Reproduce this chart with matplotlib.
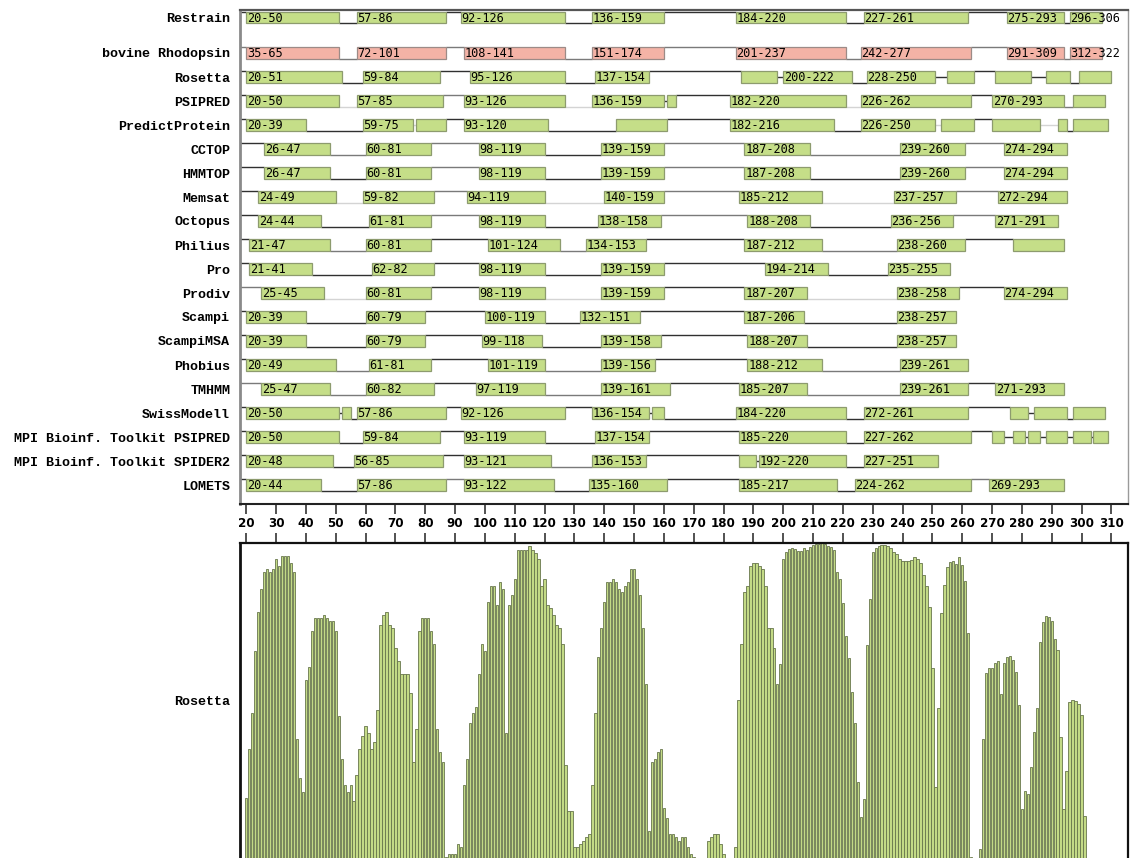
import matplotlib
matplotlib.use("Agg")
import matplotlib.pyplot as plt
from matplotlib.patches import Rectangle
import numpy as np

# ---- predicted transmembrane segments: (first residue, last residue, label) ----
row_names = ["Restrain", "bovine Rhodopsin", "Rosetta", "PSIPRED", "PredictProtein",
             "CCTOP", "HMMTOP", "Memsat", "Octopus", "Philius", "Pro", "Prodiv",
             "Scampi", "ScampiMSA", "Phobius", "TMHMM", "SwissModell",
             "MPI Bioinf. Toolkit PSIPRED", "MPI Bioinf. Toolkit SPIDER2", "LOMETS"]

restrain = [(20, 50, "20-50"), (57, 86, "57-86"), (92, 126, "92-126"), (136, 159, "136-159"),
            (184, 220, "184-220"), (227, 261, "227-261"), (275, 293, "275-293"), (296, 306, "296-306")]
rhodopsin = [(20, 50, "35-65"), (57, 86, "72-101"), (93, 126, "108-141"), (136, 159, "151-174"),
             (184, 220, "201-237"), (226, 262, "242-277"), (275, 293, "291-309"), (296, 306, "312-322")]
rosetta = [(20, 51, "20-51"), (59, 84, "59-84"), (95, 126, "95-126"), (137, 154, "137-154"),
           (186, 197, ""), (200, 222, "200-222"), (228, 250, "228-250"), (255, 263, ""),
           (271, 282, ""), (288, 295, ""), (299, 309, "")]
psipred = [(20, 50, "20-50"), (57, 85, "57-85"), (93, 126, "93-126"), (136, 159, "136-159"),
           (161, 163, ""), (182, 220, "182-220"), (226, 262, "226-262"), (270, 293, "270-293"),
           (297, 307, "")]
predictprotein = [(20, 39, "20-39"), (59, 75, "59-75"), (77, 86, ""), (93, 120, "93-120"),
                  (144, 160, ""), (182, 216, "182-216"), (226, 250, "226-250"), (253, 263, ""),
                  (270, 285, ""), (292, 294, ""), (297, 308, "")]
cctop = [(26, 47, "26-47"), (60, 81, "60-81"), (98, 119, "98-119"), (139, 159, "139-159"),
         (187, 208, "187-208"), (239, 260, "239-260"), (274, 294, "274-294")]
hmmtop = [(26, 47, "26-47"), (60, 81, "60-81"), (98, 119, "98-119"), (139, 159, "139-159"),
          (187, 208, "187-208"), (239, 260, "239-260"), (274, 294, "274-294")]
memsat = [(24, 49, "24-49"), (59, 82, "59-82"), (94, 119, "94-119"), (140, 159, "140-159"),
          (185, 212, "185-212"), (237, 257, "237-257"), (272, 294, "272-294")]
octopus = [(24, 44, "24-44"), (61, 81, "61-81"), (98, 119, "98-119"), (138, 158, "138-158"),
           (188, 208, "188-208"), (236, 256, "236-256"), (271, 291, "271-291")]
philius = [(21, 47, "21-47"), (60, 81, "60-81"), (101, 124, "101-124"), (134, 153, "134-153"),
           (187, 212, "187-212"), (238, 260, "238-260"), (277, 293, "")]
pro = [(21, 41, "21-41"), (62, 82, "62-82"), (98, 119, "98-119"), (139, 159, "139-159"),
       (194, 214, "194-214"), (235, 255, "235-255")]
prodiv = [(25, 45, "25-45"), (60, 81, "60-81"), (98, 119, "98-119"), (139, 159, "139-159"),
          (187, 207, "187-207"), (238, 258, "238-258"), (274, 294, "274-294")]
scampi = [(20, 39, "20-39"), (60, 79, "60-79"), (100, 119, "100-119"), (132, 151, "132-151"),
          (187, 206, "187-206"), (238, 257, "238-257")]
scampimsa = [(20, 39, "20-39"), (60, 79, "60-79"), (99, 118, "99-118"), (139, 158, "139-158"),
             (188, 207, "188-207"), (238, 257, "238-257")]
phobius = [(20, 49, "20-49"), (61, 81, "61-81"), (101, 119, "101-119"), (139, 156, "139-156"),
           (188, 212, "188-212"), (239, 261, "239-261")]
tmhmm = [(25, 47, "25-47"), (60, 82, "60-82"), (97, 119, "97-119"), (139, 161, "139-161"),
         (185, 207, "185-207"), (239, 261, "239-261"), (271, 293, "271-293")]
swissmodell = [(20, 50, "20-50"), (52, 54, ""), (57, 86, "57-86"), (92, 126, "92-126"),
               (136, 154, "136-154"), (156, 159, ""), (184, 220, "184-220"), (227, 261, "272-261"),
               (276, 281, ""), (284, 294, ""), (297, 307, "")]
mpi_psipred = [(20, 50, "20-50"), (59, 84, "59-84"), (93, 119, "93-119"), (137, 154, "137-154"),
               (185, 220, "185-220"), (227, 262, "227-262"), (270, 273, ""), (277, 280, ""),
               (282, 285, ""), (288, 294, ""), (297, 302, ""), (304, 308, "")]
mpi_spider2 = [(20, 48, "20-48"), (56, 85, "56-85"), (93, 121, "93-121"), (136, 153, "136-153"),
               (185, 190, ""), (192, 220, "192-220"), (227, 251, "227-251")]
lomets = [(20, 44, "20-44"), (57, 86, "57-86"), (93, 122, "93-122"), (135, 160, "135-160"),
          (185, 217, "185-217"), (224, 262, "224-262"), (269, 293, "269-293")]

# connecting loops: first entry is the N-terminal lead-in, then one per gap
# t/b/m = top, bottom, middle of the box; suffix g = grey line, l = light line
restrain_loops = ["t", "b", "t", "b", "t", "b", "t", "b"]
rhodopsin_loops = ["tg", "bg", "tg", "bg", "tg", "bg", "tg", "bg"]
rosetta_loops = ["t", "b", "t", "b", "t", "m", "b", "m", "t", "m", "b"]
psipred_loops = ["t", "bl", "tg", "bl", "m", "t", "bl", "t", "bg"]
predictprotein_loops = ["t", "b", "ml", "t", "b", "t", "b", "ml", "t", "ml", "b"]
cctop_loops = ["t", "bg", "tg", "b", "tg", "bg", "tg"]
hmmtop_loops = ["t", "b", "tg", "b", "tg", "b", "tg"]
memsat_loops = ["t", "bl", "tg", "bl", "tg", "bl", "tg"]
octopus_loops = ["t", "b", "tg", "b", "tg", "b", "tg"]
philius_loops = ["t", "bg", "t", "bg", "t", "bg", "t"]
pro_loops = ["t", "b", "t", "b", "t", "b"]
prodiv_loops = ["tg", "bl", "t", "bl", "t", "bl", "t"]
scampi_loops = ["t", "b", "t", "b", "t", "b"]
scampimsa_loops = ["t", "b", "t", "b", "t", "b"]
phobius_loops = ["t", "bg", "t", "bg", "t", "bg"]
tmhmm_loops = ["tg", "bg", "t", "bg", "t", "bg", "t"]
swissmodell_loops = ["t", "m", "b", "t", "t", "m", "b", "b", "t", "m", "b"]
mpi_psipred_loops = ["t", "b", "t", "b", "t", "b", "t", "m", "m", "m", "m", "m"]
mpi_spider2_loops = ["t", "b", "t", "bg", "t", "m", "b"]
lomets_loops = ["t", "b", "tg", "b", "t", "b", "tg"]

segments = [restrain, rhodopsin, rosetta, psipred, predictprotein, cctop, hmmtop, memsat,
            octopus, philius, pro, prodiv, scampi, scampimsa, phobius, tmhmm, swissmodell,
            mpi_psipred, mpi_spider2, lomets]
loops = [restrain_loops, rhodopsin_loops, rosetta_loops, psipred_loops, predictprotein_loops,
         cctop_loops, hmmtop_loops, memsat_loops, octopus_loops, philius_loops, pro_loops,
         prodiv_loops, scampi_loops, scampimsa_loops, phobius_loops, tmhmm_loops,
         swissmodell_loops, mpi_psipred_loops, mpi_spider2_loops, lomets_loops]

# ---- per-residue Rosetta membrane score, residues 20..301 ----
score_start = 20
rosetta_score = [
    22, 37, 48, 67, 79, 86, 91, 92, 91, 92,
    95, 93, 96, 96, 96, 94, 91, 40, 28, 24,
    58, 62, 73, 77, 77, 77, 78, 77, 76, 76,
    73, 47, 34, 26, 24, 26, 21, 29, 37, 41,
    44, 42, 37, 39, 49, 75, 78, 79, 75, 74,
    68, 64, 60, 60, 60, 54, 33, 43, 73, 77,
    77, 77, 73, 69, 43, 36, 33, 4, 5, 5,
    5, 8, 7, 26, 34, 45, 48, 50, 60, 69,
    67, 82, 87, 87, 81, 88, 86, 42, 81, 84,
    89, 98, 98, 98, 98, 99, 98, 97, 95, 87,
    89, 81, 80, 78, 75, 74, 69, 32, 18, 18,
    7, 7, 8, 9, 10, 11, 26, 48, 65, 74,
    82, 88, 88, 89, 88, 86, 85, 87, 88, 92,
    92, 89, 84, 74, 57, 12, 33, 34, 36, 37,
    19, 16, 11, 11, 10, 9, 10, 10, 7, 5,
    4, 0, 0, 0, 0, 9, 10, 11, 11, 8,
    5, 0, 0, 3, 7, 52, 69, 85, 87, 93,
    94, 94, 93, 92, 87, 74, 74, 68, 57, 63,
    95.2, 97.2, 98.3, 98.5, 98.3, 97.7, 97.6, 98.4, 97.8, 98.7,
    99.4, 99.7, 99.7, 99.9, 99.7, 99.1, 98.9, 97.9, 91.1, 88.9,
    81.5, 71.6, 64.8, 54.5, 45.1, 26.9, 16.2, 21.6, 68.7, 82.8,
    97.2, 98.5, 99.1, 99.5, 99.5, 99.1, 98.5, 97.4, 96.6, 95.2,
    94.4, 94.4, 94.6, 94.8, 95.6, 95.1, 93.9, 90.3, 86.8, 80.4,
    61.9, 25.5, 49.4, 78.6, 87.1, 92.6, 94.3, 94.6, 93.5, 95.6,
    93.3, 88.3, 72.4, 3.9, 0, 0, 6.3, 40.2, 60.1, 61.8,
    61.8, 63.2, 63.9, 53.7, 63.2, 65.1, 65.4, 64.2, 60.7, 50.4,
    18.8, 24.2, 23.2, 31.4, 42.2, 49.4, 69.6, 75.8, 77.6, 77.3,
    76.1, 70.7, 67.2, 40.6, 18.8, 30.3, 51.3, 52.0, 51.8, 50.8,
    47.3, 16.5,
]
ruler_ticks = list(range(20, 311, 10))

GREEN = "#c5de88"
GREEN_EDGE = "#8d9b6e"
SALMON = "#f4b3a6"
SALMON_EDGE = "#9c8b87"
LOOP_COLORS = {"": "#303030", "g": "#7a7a7a", "l": "#d4d4d4"}
LABEL_FONT = dict(family="Liberation Mono", weight="bold", size=9.6)

W, H = 1130, 858
fig = plt.figure(figsize=(W / 100, H / 100), dpi=100)
xlim = (17.89, 315.57)


def fig_rect(left, top, right, bottom):
    # pixel box -> figure fraction
    return [left / W, 1 - bottom / H, (right - left) / W, (bottom - top) / H]


# ---------- top panel: segment tracks ----------
ax = fig.add_axes(fig_rect(240, 10, 1128, 504))
ax.set_xlim(*xlim)
ax.set_ylim(504, 10)
row_y = [17.5, 53] + [77 + 24 * k for k in range(len(row_names) - 2)]
box_h = 11.6

for yc, segs, lps, name in zip(row_y, segments, loops, row_names):
    fc, ec = (SALMON, SALMON_EDGE) if name == "bovine Rhodopsin" else (GREEN, GREEN_EDGE)
    levels = {"t": yc - box_h / 2, "b": yc + box_h / 2, "m": yc}
    # lead-in line from the axis to the first segment
    code = lps[0]
    ax.plot([xlim[0], segs[0][0]], [levels[code[0]]] * 2,
            color=LOOP_COLORS[code[1:]], lw=1.0, zorder=1, solid_capstyle="butt")
    for (s0, e0, _), (s1, e1, _), code in zip(segs[:-1], segs[1:], lps[1:]):
        ax.plot([e0 + 1, s1], [levels[code[0]]] * 2,
                color=LOOP_COLORS[code[1:]], lw=1.0, zorder=1, solid_capstyle="butt")
    for s, e, lab in segs:
        ax.add_patch(Rectangle((s, yc - box_h / 2), e + 1 - s, box_h,
                               facecolor=fc, edgecolor=ec, lw=0.9, zorder=2))
        if lab:
            ax.text(s + 0.2, yc + 0.8, lab, ha="left", va="center",
                    family="DejaVu Sans Mono", size=8.6, zorder=3)

ax.set_yticks(row_y, row_names, **LABEL_FONT)
ax.tick_params(axis="y", length=0, pad=7)
ax.set_xticks([])
ax.spines["left"].set_color("#8a8a8a")
ax.spines["left"].set_linewidth(2.0)
ax.spines["top"].set_color("#555555")
ax.spines["top"].set_linewidth(1.6)
ax.spines["right"].set_color("#9a9a9a")
ax.spines["right"].set_linewidth(1.0)
ax.spines["bottom"].set_color("#222222")
ax.spines["bottom"].set_linewidth(1.5)

# ---------- ruler ----------
axr = fig.add_axes(fig_rect(240, 504, 1128, 543))
axr.set_xlim(*xlim)
axr.set_ylim(0, 1)
axr.set_xticks(ruler_ticks)
axr.set_yticks([])
axr.tick_params(axis="x", direction="in", length=7.5, width=1.1, top=True, bottom=True,
                labelbottom=False, color="#222222")
for sp in ["left", "right", "top", "bottom"]:
    axr.spines[sp].set_visible(False)
axr.patch.set_alpha(0)
for t in ruler_ticks:
    axr.text(t, 0.49, str(t), ha="center", va="center", size=8.6, weight="bold",
             family="DejaVu Sans")

# ---------- bottom panel: per-residue score ----------
axb = fig.add_axes(fig_rect(240, 543, 1128, 870))
residues = np.arange(score_start, score_start + len(rosetta_score))
axb.bar(residues, rosetta_score, width=0.8, color="#c3da86", edgecolor="#68764c",
        linewidth=0.6, zorder=2)
axb.set_xlim(*xlim)
axb.set_ylim(0, 100)
axb.set_xticks([])
visible_mid = (870 - (543 + 858) / 2) / 327 * 100
axb.set_yticks([visible_mid], ["Rosetta"], **LABEL_FONT)
axb.tick_params(axis="y", length=0, pad=7)
for sp in ["left", "top", "right", "bottom"]:
    axb.spines[sp].set_color("#111111")
axb.spines["left"].set_linewidth(2.0)
axb.spines["top"].set_linewidth(1.6)
axb.spines["right"].set_linewidth(1.6)

fig.savefig("out.png", dpi=100)
